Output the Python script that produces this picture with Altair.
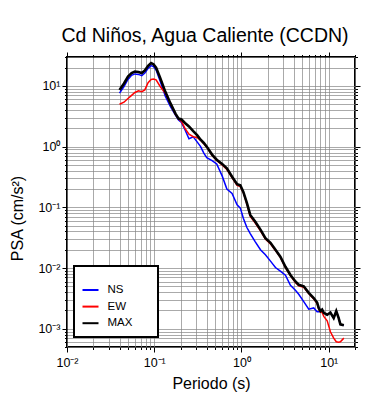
import altair as alt
import pandas as pd

periods = [0.040, 0.045, 0.050, 0.055, 0.060, 0.066, 0.072, 0.078, 0.085, 0.092,
           0.098, 0.105, 0.117, 0.134, 0.153, 0.175, 0.19, 0.205, 0.225, 0.25,
           0.28, 0.31, 0.34, 0.37, 0.40, 0.46, 0.52, 0.60, 0.68, 0.78,
           0.89, 0.97, 1.05, 1.15, 1.26, 1.44, 1.65, 1.88, 2.15, 2.45,
           2.79, 3.19, 3.64, 4.15, 4.53, 5.17, 5.9, 6.73, 7.36, 7.68,
           8.03, 8.4, 8.77, 9.6, 10.45, 11.4, 12.2, 13.0, 13.6, 14.9]

ns_vals = [7.6, 9.8, 12.8, 15.0, 15.8, 15.5, 14.8, 16.3, 19.5, 21.6,
           20.8, 18.3, 12.0, 6.8, 4.6, 3.3, 2.75, 2.5, 1.9, 1.35,
           1.45, 1.2, 1.0, 0.78, 0.66, 0.59, 0.52, 0.33, 0.2, 0.17,
           0.11, 0.097, 0.066, 0.047, 0.037, 0.027, 0.02, 0.0165, 0.013, 0.0102,
           0.0089, 0.0076, 0.0052, 0.0043, 0.0037, 0.0028, 0.0021, 0.0022, 0.0019, 0.0019,
           0.00195, 0.00207, 0.00183, 0.0017, 0.00185, 0.0015, 0.00195, 0.0015, 0.00118, 0.00114]

ew_vals = [5.0, 5.4, 6.2, 7.0, 7.8, 8.3, 8.05, 8.6, 11.3, 12.8,
           13.0, 12.6, 9.8, 7.6, 5.1, 3.4, 2.85, 2.6, 2.0, 1.6,
           1.46, 1.42, 1.27, 1.12, 0.98, 0.72, 0.59, 0.50, 0.42, 0.31,
           0.23, 0.22, 0.175, 0.115, 0.071, 0.055, 0.041, 0.030, 0.025, 0.0195,
           0.015, 0.0102, 0.0075, 0.0058, 0.0051, 0.0048, 0.0038, 0.0031, 0.0026, 0.0021,
           0.0019, 0.00185, 0.0016, 0.00135, 0.00089, 0.0007, 0.00061, 0.0006, 0.00061, 0.0007]

max_vals = [8.6, 11.0, 14.3, 16.3, 17.3, 17.0, 16.3, 18.0, 21.5, 23.8,
            22.8, 20.0, 13.6, 8.0, 5.2, 3.5, 2.9, 2.8, 2.45, 2.15,
            1.8, 1.55, 1.3, 1.15, 1.0, 0.74, 0.61, 0.52, 0.44, 0.32,
            0.24, 0.23, 0.18, 0.12, 0.075, 0.058, 0.043, 0.031, 0.026, 0.020,
            0.0154, 0.0105, 0.0077, 0.006, 0.0053, 0.005, 0.0039, 0.0032, 0.0027, 0.0022,
            0.00195, 0.00207, 0.00183, 0.0017, 0.00185, 0.0015, 0.00195, 0.0015, 0.00118, 0.00114]

series_names = ["NS", "EW", "MAX"]
series_colors = ["#0000ff", "#ff0000", "#000000"]

comp_rows = []
for name, vals in zip(series_names[:2], [ns_vals, ew_vals]):
    for t, v in zip(periods, vals):
        comp_rows.append({"Periodo": t, "PSA": v, "serie": name})
df_comp = pd.DataFrame(comp_rows)
df_max = pd.DataFrame({"Periodo": periods, "PSA": max_vals, "serie": "MAX"})

x_ticks = [round(k * 10.0 ** e, 6) for e in range(-2, 2) for k in range(1, 10)] + [20.0]
y_ticks = [round(k * 10.0 ** e, 8) for e in range(-4, 2) for k in range(1, 10)
           if 5e-4 <= k * 10.0 ** e <= 30.0001]

FONT = "Liberation Sans"
DEC = "abs(log(datum.value)/LN10 - round(log(datum.value)/LN10)) < 0.001"
EXP = "round(log(datum.value)/LN10)"
label_expr = (f"({DEC}) ? ({EXP} == -3 ? '10⁻³' : {EXP} == -2 ? '10⁻²' : "
              f"{EXP} == -1 ? '10⁻¹' : {EXP} == 0 ? '10⁰' : {EXP} == 1 ? '10¹' : '') : ''")
tick_size = {"condition": {"test": DEC, "value": 5}, "value": 2.5}

xs = alt.Scale(type="log", domain=[0.01, 20], nice=False)
ys = alt.Scale(type="log", domain=[5e-4, 30], nice=False)

grid_color = "#858585"

x_main = alt.X("Periodo:Q", scale=xs, title="Periodo (s)",
               axis=alt.Axis(orient="bottom", values=x_ticks, labelExpr=label_expr,
                             tickSize=tick_size, tickColor="black", grid=True,
                             gridColor=grid_color, gridWidth=0.7, domain=False,
                             labelOverlap=False, labelFlush=False, labelFontSize=12.5,
                             labelColor="black", labelPadding=4, labelFont=FONT,
                             titleFont=FONT, titleFontSize=16, titleFontWeight="normal",
                             titleColor="black", titleY=41, titleBaseline="alphabetic"))
y_main = alt.Y("PSA:Q", scale=ys, title="PSA (cm/s²)",
               axis=alt.Axis(orient="left", values=y_ticks, labelExpr=label_expr,
                             tickSize=tick_size, tickColor="black", grid=True,
                             gridColor=grid_color, gridWidth=0.7, domain=False,
                             labelOverlap=False, labelFlush=False, labelFontSize=12.5,
                             labelColor="black", labelPadding=2, labelFont=FONT,
                             titleFont=FONT, titleFontSize=16, titleFontWeight="normal",
                             titleColor="black", titleX=-50, titleY=161,
                             titleBaseline="middle", titleAlign="center"))

blank = "\u2800\u2800"
color_enc = alt.Color(
    "serie:N",
    scale=alt.Scale(domain=series_names, range=series_colors),
    legend=alt.Legend(orient="none", legendX=7, legendY=209,
                      title="\u00a0", titleFontSize=7, titlePadding=0.5,
                      padding=7.5, strokeColor="black", fillColor="white",
                      symbolType="stroke", symbolSize=256,
                      symbolStrokeWidth=2, rowPadding=1.6,
                      labelOffset=8, labelFontSize=11.5, labelFont=FONT,
                      labelColor="black",
                      labelExpr=f"datum.label + '{blank}'"),
)

comp_lines = alt.Chart(df_comp).mark_line(strokeWidth=1.5).encode(
    x=x_main, y=y_main, color=color_enc,
)

max_line = alt.Chart(df_max).mark_line(strokeWidth=2.6).encode(
    x=alt.X("Periodo:Q", scale=xs, axis=None),
    y=alt.Y("PSA:Q", scale=ys, axis=None),
    color=color_enc,
)

frame_axes = alt.Chart(df_max).mark_line(strokeOpacity=0).encode(
    x=alt.X("Periodo:Q", scale=xs, title=None,
            axis=alt.Axis(orient="top", values=x_ticks, labels=False, tickSize=tick_size,
                          tickColor="black", grid=False, domain=False)),
    y=alt.Y("PSA:Q", scale=ys, title=None,
            axis=alt.Axis(orient="right", values=y_ticks, labels=False, tickSize=tick_size,
                          tickColor="black", grid=False, domain=False)),
)

chart = alt.layer(comp_lines, max_line, frame_axes).resolve_axis(
    x="independent", y="independent"
).properties(
    width=288, height=290,
    autosize=alt.AutoSizeParams(type="none"),
    padding={"left": 59, "top": 49, "right": 25, "bottom": 45},
    title=alt.TitleParams(text="Cd Niños, Agua Caliente (CCDN)", font=FONT, fontSize=19.5,
                          fontWeight="normal", color="black", anchor="middle", dx=-6,
                          offset=-10, baseline="alphabetic"),
).configure_view(
    stroke="black", strokeWidth=2
).configure_legend(
    strokeWidth=2
)

chart.save("out.html", embed_options={"renderer": "svg", "actions": False})
